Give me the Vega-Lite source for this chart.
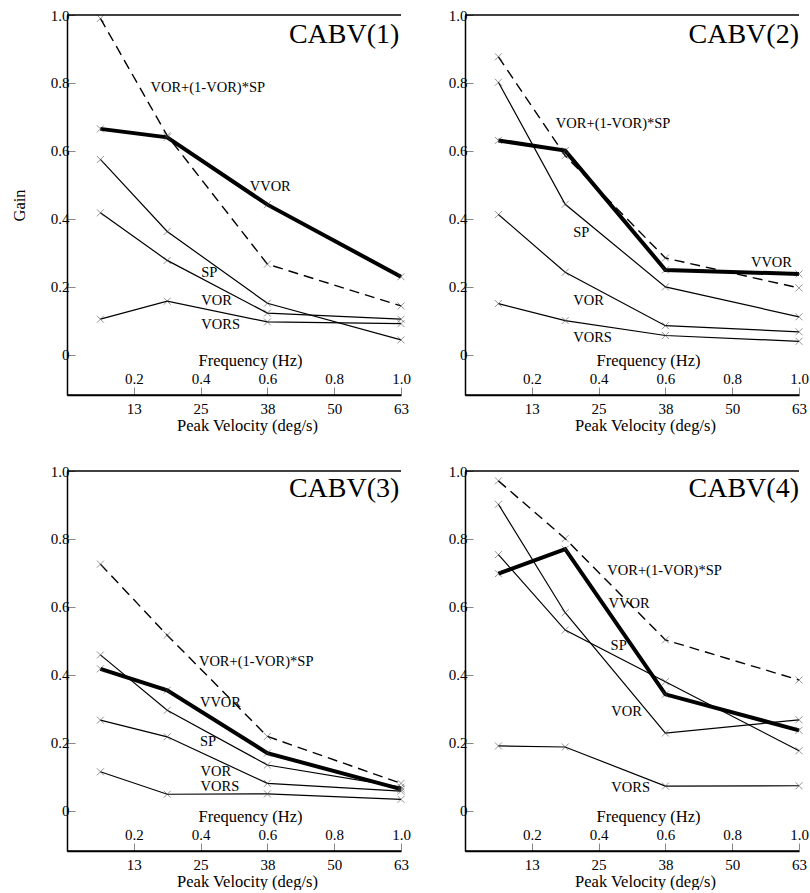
{
  "$schema": "https://vega.github.io/schema/vega-lite/v6.json",
  "padding": {"top": 8, "left": 11, "right": 0, "bottom": 0},
  "background": "white",
  "datasets": {
    "lines": [
      {"p":1,"s":"SUM","f":0.1,"g":0.99},{"p":1,"s":"SUM","f":0.3,"g":0.645},{"p":1,"s":"SUM","f":0.6,"g":0.267},{"p":1,"s":"SUM","f":1.0,"g":0.144},
      {"p":1,"s":"VVOR","f":0.1,"g":0.665},{"p":1,"s":"VVOR","f":0.3,"g":0.64},{"p":1,"s":"VVOR","f":0.6,"g":0.442},{"p":1,"s":"VVOR","f":1.0,"g":0.23},
      {"p":1,"s":"SP","f":0.1,"g":0.575},{"p":1,"s":"SP","f":0.3,"g":0.363},{"p":1,"s":"SP","f":0.6,"g":0.152},{"p":1,"s":"SP","f":1.0,"g":0.044},
      {"p":1,"s":"VOR","f":0.1,"g":0.418},{"p":1,"s":"VOR","f":0.3,"g":0.278},{"p":1,"s":"VOR","f":0.6,"g":0.123},{"p":1,"s":"VOR","f":1.0,"g":0.105},
      {"p":1,"s":"VORS","f":0.1,"g":0.105},{"p":1,"s":"VORS","f":0.3,"g":0.158},{"p":1,"s":"VORS","f":0.6,"g":0.097},{"p":1,"s":"VORS","f":1.0,"g":0.092},
      {"p":2,"s":"SUM","f":0.1,"g":0.877},{"p":2,"s":"SUM","f":0.3,"g":0.586},{"p":2,"s":"SUM","f":0.6,"g":0.285},{"p":2,"s":"SUM","f":1.0,"g":0.197},
      {"p":2,"s":"VVOR","f":0.1,"g":0.631},{"p":2,"s":"VVOR","f":0.3,"g":0.601},{"p":2,"s":"VVOR","f":0.6,"g":0.25},{"p":2,"s":"VVOR","f":1.0,"g":0.238},
      {"p":2,"s":"SP","f":0.1,"g":0.802},{"p":2,"s":"SP","f":0.3,"g":0.443},{"p":2,"s":"SP","f":0.6,"g":0.2},{"p":2,"s":"SP","f":1.0,"g":0.112},
      {"p":2,"s":"VOR","f":0.1,"g":0.413},{"p":2,"s":"VOR","f":0.3,"g":0.243},{"p":2,"s":"VOR","f":0.6,"g":0.086},{"p":2,"s":"VOR","f":1.0,"g":0.068},
      {"p":2,"s":"VORS","f":0.1,"g":0.151},{"p":2,"s":"VORS","f":0.3,"g":0.101},{"p":2,"s":"VORS","f":0.6,"g":0.057},{"p":2,"s":"VORS","f":1.0,"g":0.04},
      {"p":3,"s":"SUM","f":0.1,"g":0.726},{"p":3,"s":"SUM","f":0.3,"g":0.517},{"p":3,"s":"SUM","f":0.6,"g":0.219},{"p":3,"s":"SUM","f":1.0,"g":0.081},
      {"p":3,"s":"VVOR","f":0.1,"g":0.418},{"p":3,"s":"VVOR","f":0.3,"g":0.355},{"p":3,"s":"VVOR","f":0.6,"g":0.17},{"p":3,"s":"VVOR","f":1.0,"g":0.064},
      {"p":3,"s":"SP","f":0.1,"g":0.459},{"p":3,"s":"SP","f":0.3,"g":0.296},{"p":3,"s":"SP","f":0.6,"g":0.135},{"p":3,"s":"SP","f":1.0,"g":0.07},
      {"p":3,"s":"VOR","f":0.1,"g":0.267},{"p":3,"s":"VOR","f":0.3,"g":0.218},{"p":3,"s":"VOR","f":0.6,"g":0.081},{"p":3,"s":"VOR","f":1.0,"g":0.058},
      {"p":3,"s":"VORS","f":0.1,"g":0.115},{"p":3,"s":"VORS","f":0.3,"g":0.049},{"p":3,"s":"VORS","f":0.6,"g":0.05},{"p":3,"s":"VORS","f":1.0,"g":0.034},
      {"p":4,"s":"SUM","f":0.1,"g":0.971},{"p":4,"s":"SUM","f":0.3,"g":0.801},{"p":4,"s":"SUM","f":0.6,"g":0.503},{"p":4,"s":"SUM","f":1.0,"g":0.385},
      {"p":4,"s":"VVOR","f":0.1,"g":0.698},{"p":4,"s":"VVOR","f":0.3,"g":0.77},{"p":4,"s":"VVOR","f":0.6,"g":0.343},{"p":4,"s":"VVOR","f":1.0,"g":0.237},
      {"p":4,"s":"SP","f":0.1,"g":0.754},{"p":4,"s":"SP","f":0.3,"g":0.532},{"p":4,"s":"SP","f":0.6,"g":0.38},{"p":4,"s":"SP","f":1.0,"g":0.177},
      {"p":4,"s":"VOR","f":0.1,"g":0.902},{"p":4,"s":"VOR","f":0.3,"g":0.583},{"p":4,"s":"VOR","f":0.6,"g":0.229},{"p":4,"s":"VOR","f":1.0,"g":0.268},
      {"p":4,"s":"VORS","f":0.1,"g":0.191},{"p":4,"s":"VORS","f":0.3,"g":0.188},{"p":4,"s":"VORS","f":0.6,"g":0.073},{"p":4,"s":"VORS","f":1.0,"g":0.074}
    ],
    "labels": [
      {"p":1,"t":"VOR+(1-VOR)*SP","x":0.25,"y":0.784},{"p":1,"t":"VVOR","x":0.547,"y":0.495},{"p":1,"t":"SP","x":0.402,"y":0.24},{"p":1,"t":"VOR","x":0.402,"y":0.16},{"p":1,"t":"VORS","x":0.402,"y":0.088},
      {"p":2,"t":"VOR+(1-VOR)*SP","x":0.272,"y":0.678},{"p":2,"t":"SP","x":0.324,"y":0.36},{"p":2,"t":"VOR","x":0.324,"y":0.158},{"p":2,"t":"VORS","x":0.324,"y":0.049},{"p":2,"t":"VVOR","x":0.856,"y":0.269},
      {"p":3,"t":"VOR+(1-VOR)*SP","x":0.395,"y":0.439},{"p":3,"t":"VVOR","x":0.398,"y":0.316},{"p":3,"t":"SP","x":0.398,"y":0.203},{"p":3,"t":"VOR","x":0.4,"y":0.113},{"p":3,"t":"VORS","x":0.4,"y":0.069},
      {"p":4,"t":"VOR+(1-VOR)*SP","x":0.426,"y":0.705},{"p":4,"t":"VVOR","x":0.43,"y":0.609},{"p":4,"t":"SP","x":0.436,"y":0.484},{"p":4,"t":"VOR","x":0.438,"y":0.292},{"p":4,"t":"VORS","x":0.438,"y":0.068}
    ],
    "titles": [
      {"p":1,"t":"CABV(1)","x":0.995,"y":0.94},
      {"p":2,"t":"CABV(2)","x":1.0,"y":0.94},
      {"p":3,"t":"CABV(3)","x":0.995,"y":0.946},
      {"p":4,"t":"CABV(4)","x":1.0,"y":0.946}
    ],
    "frame": [{"g": -0.118}, {"g": 1}]
  },
  "columns": 2,
  "spacing": {"row": 30, "column": 37},
  "concat": [
    {
      "width": 334, "height": 380,
      "layer": [
        {"data": {"name": "lines"}, "transform": [{"filter": "datum.p == 1 && (datum.s == 'SP' || datum.s == 'VOR' || datum.s == 'VORS')"}],
         "mark": {"type": "line", "color": "black", "strokeWidth": 1.2},
         "encoding": {
           "x": {"field": "f", "type": "quantitative", "scale": {"domain": [0, 1], "nice": false, "zero": false},
                 "axis": {"orient": "bottom", "domain": true, "domainColor": "black", "domainWidth": 1.5, "values": [0.2, 0.4, 0.6, 0.8, 1], "labelExpr": "format(datum.value*63, '.0f')", "tickSize": -8, "labelPadding": 14, "labelFlush": false, "labelOverlap": false, "title": "Peak Velocity (deg/s)", "titlePadding": 1, "titleX": 180}},
           "y": {"field": "g", "type": "quantitative", "scale": {"domain": [-0.118, 1], "nice": false, "zero": false},
                 "axis": {"values": [0, 0.2, 0.4, 0.6, 0.8, 1], "labelExpr": "datum.value == 0 ? '0' : format(datum.value, '.1f')", "tickSize": -8, "labelPadding": 6, "labelFlush": false, "labelOverlap": false, "title": "Gain", "titlePadding": 23}},
           "detail": {"field": "s"},
           "order": {"field": "f"}
         }},
        {"data": {"name": "lines"}, "transform": [{"filter": "datum.p == 1 && datum.s == 'VVOR'"}],
         "mark": {"type": "line", "color": "black", "strokeWidth": 4},
         "encoding": {"x": {"field": "f", "type": "quantitative", "axis": null}, "y": {"field": "g", "type": "quantitative", "axis": null}, "order": {"field": "f"}}},
        {"data": {"name": "lines"}, "transform": [{"filter": "datum.p == 1 && datum.s == 'SUM'"}],
         "mark": {"type": "line", "color": "black", "strokeWidth": 1.4, "strokeDash": [10, 6]},
         "encoding": {"x": {"field": "f", "type": "quantitative", "axis": null}, "y": {"field": "g", "type": "quantitative", "axis": null}, "order": {"field": "f"}}},
        {"data": {"name": "lines"}, "transform": [{"filter": "datum.p == 1"}],
         "mark": {"type": "point", "shape": "M-1,-1L1,1M-1,1L1,-1", "size": 49, "filled": false, "stroke": "#444", "strokeWidth": 0.8},
         "encoding": {
           "x": {"field": "f", "type": "quantitative", "axis": {"orient": "top", "offset": -373, "values": [0.2, 0.4, 0.6, 0.8, 1], "format": ".1f", "domain": false, "ticks": false, "tickSize": 0, "labelPadding": 2, "labelFlush": false, "labelOverlap": false, "title": "Frequency (Hz)", "titlePadding": 3, "titleX": 183}},
           "y": {"field": "g", "type": "quantitative", "axis": null}
         }},
        {"data": {"name": "labels"}, "transform": [{"filter": "datum.p == 1"}],
         "mark": {"type": "text", "align": "left", "baseline": "middle", "fontSize": 14.5, "font": "Liberation Serif", "color": "black"},
         "encoding": {"x": {"field": "x", "type": "quantitative", "axis": null}, "y": {"field": "y", "type": "quantitative", "axis": null}, "text": {"field": "t"}}},
        {"data": {"name": "titles"}, "transform": [{"filter": "datum.p == 1"}],
         "mark": {"type": "text", "align": "right", "baseline": "middle", "fontSize": 28, "font": "Liberation Serif", "color": "black"},
         "encoding": {"x": {"field": "x", "type": "quantitative", "axis": null}, "y": {"field": "y", "type": "quantitative", "axis": null}, "text": {"field": "t"}}},
        {"data": {"name": "frame"},
         "mark": {"type": "rule", "strokeWidth": 1.5, "color": "black"},
         "encoding": {"y": {"field": "g", "type": "quantitative", "axis": null}}}
      ],
      "resolve": {"axis": {"x": "independent", "y": "independent"}}
    },
    {
      "width": 334, "height": 380,
      "layer": [
        {"data": {"name": "lines"}, "transform": [{"filter": "datum.p == 2 && (datum.s == 'SP' || datum.s == 'VOR' || datum.s == 'VORS')"}],
         "mark": {"type": "line", "color": "black", "strokeWidth": 1.2},
         "encoding": {
           "x": {"field": "f", "type": "quantitative", "scale": {"domain": [0, 1], "nice": false, "zero": false},
                 "axis": {"orient": "bottom", "domain": true, "domainColor": "black", "domainWidth": 1.5, "values": [0.2, 0.4, 0.6, 0.8, 1], "labelExpr": "format(datum.value*63, '.0f')", "tickSize": -8, "labelPadding": 14, "labelFlush": false, "labelOverlap": false, "title": "Peak Velocity (deg/s)", "titlePadding": 1, "titleX": 180}},
           "y": {"field": "g", "type": "quantitative", "scale": {"domain": [-0.118, 1], "nice": false, "zero": false},
                 "axis": {"values": [0, 0.2, 0.4, 0.6, 0.8, 1], "labelExpr": "datum.value == 0 ? '0' : format(datum.value, '.1f')", "tickSize": -8, "labelPadding": 6, "labelFlush": false, "labelOverlap": false, "title": null}},
           "detail": {"field": "s"},
           "order": {"field": "f"}
         }},
        {"data": {"name": "lines"}, "transform": [{"filter": "datum.p == 2 && datum.s == 'VVOR'"}],
         "mark": {"type": "line", "color": "black", "strokeWidth": 4},
         "encoding": {"x": {"field": "f", "type": "quantitative", "axis": null}, "y": {"field": "g", "type": "quantitative", "axis": null}, "order": {"field": "f"}}},
        {"data": {"name": "lines"}, "transform": [{"filter": "datum.p == 2 && datum.s == 'SUM'"}],
         "mark": {"type": "line", "color": "black", "strokeWidth": 1.4, "strokeDash": [10, 6]},
         "encoding": {"x": {"field": "f", "type": "quantitative", "axis": null}, "y": {"field": "g", "type": "quantitative", "axis": null}, "order": {"field": "f"}}},
        {"data": {"name": "lines"}, "transform": [{"filter": "datum.p == 2"}],
         "mark": {"type": "point", "shape": "M-1,-1L1,1M-1,1L1,-1", "size": 49, "filled": false, "stroke": "#444", "strokeWidth": 0.8},
         "encoding": {
           "x": {"field": "f", "type": "quantitative", "axis": {"orient": "top", "offset": -373, "values": [0.2, 0.4, 0.6, 0.8, 1], "format": ".1f", "domain": false, "ticks": false, "tickSize": 0, "labelPadding": 2, "labelFlush": false, "labelOverlap": false, "title": "Frequency (Hz)", "titlePadding": 3, "titleX": 183}},
           "y": {"field": "g", "type": "quantitative", "axis": null}
         }},
        {"data": {"name": "labels"}, "transform": [{"filter": "datum.p == 2"}],
         "mark": {"type": "text", "align": "left", "baseline": "middle", "fontSize": 14.5, "font": "Liberation Serif", "color": "black"},
         "encoding": {"x": {"field": "x", "type": "quantitative", "axis": null}, "y": {"field": "y", "type": "quantitative", "axis": null}, "text": {"field": "t"}}},
        {"data": {"name": "titles"}, "transform": [{"filter": "datum.p == 2"}],
         "mark": {"type": "text", "align": "right", "baseline": "middle", "fontSize": 28, "font": "Liberation Serif", "color": "black"},
         "encoding": {"x": {"field": "x", "type": "quantitative", "axis": null}, "y": {"field": "y", "type": "quantitative", "axis": null}, "text": {"field": "t"}}},
        {"data": {"name": "frame"},
         "mark": {"type": "rule", "strokeWidth": 1.5, "color": "black"},
         "encoding": {"y": {"field": "g", "type": "quantitative", "axis": null}}}
      ],
      "resolve": {"axis": {"x": "independent", "y": "independent"}}
    },
    {
      "width": 334, "height": 380,
      "layer": [
        {"data": {"name": "lines"}, "transform": [{"filter": "datum.p == 3 && (datum.s == 'SP' || datum.s == 'VOR' || datum.s == 'VORS')"}],
         "mark": {"type": "line", "color": "black", "strokeWidth": 1.2},
         "encoding": {
           "x": {"field": "f", "type": "quantitative", "scale": {"domain": [0, 1], "nice": false, "zero": false},
                 "axis": {"orient": "bottom", "domain": true, "domainColor": "black", "domainWidth": 1.5, "values": [0.2, 0.4, 0.6, 0.8, 1], "labelExpr": "format(datum.value*63, '.0f')", "tickSize": -8, "labelPadding": 14, "labelFlush": false, "labelOverlap": false, "title": "Peak Velocity (deg/s)", "titlePadding": 1, "titleX": 180}},
           "y": {"field": "g", "type": "quantitative", "scale": {"domain": [-0.118, 1], "nice": false, "zero": false},
                 "axis": {"values": [0, 0.2, 0.4, 0.6, 0.8, 1], "labelExpr": "datum.value == 0 ? '0' : format(datum.value, '.1f')", "tickSize": -8, "labelPadding": 6, "labelFlush": false, "labelOverlap": false, "title": null}},
           "detail": {"field": "s"},
           "order": {"field": "f"}
         }},
        {"data": {"name": "lines"}, "transform": [{"filter": "datum.p == 3 && datum.s == 'VVOR'"}],
         "mark": {"type": "line", "color": "black", "strokeWidth": 4},
         "encoding": {"x": {"field": "f", "type": "quantitative", "axis": null}, "y": {"field": "g", "type": "quantitative", "axis": null}, "order": {"field": "f"}}},
        {"data": {"name": "lines"}, "transform": [{"filter": "datum.p == 3 && datum.s == 'SUM'"}],
         "mark": {"type": "line", "color": "black", "strokeWidth": 1.4, "strokeDash": [10, 6]},
         "encoding": {"x": {"field": "f", "type": "quantitative", "axis": null}, "y": {"field": "g", "type": "quantitative", "axis": null}, "order": {"field": "f"}}},
        {"data": {"name": "lines"}, "transform": [{"filter": "datum.p == 3"}],
         "mark": {"type": "point", "shape": "M-1,-1L1,1M-1,1L1,-1", "size": 49, "filled": false, "stroke": "#444", "strokeWidth": 0.8},
         "encoding": {
           "x": {"field": "f", "type": "quantitative", "axis": {"orient": "top", "offset": -373, "values": [0.2, 0.4, 0.6, 0.8, 1], "format": ".1f", "domain": false, "ticks": false, "tickSize": 0, "labelPadding": 2, "labelFlush": false, "labelOverlap": false, "title": "Frequency (Hz)", "titlePadding": 3, "titleX": 183}},
           "y": {"field": "g", "type": "quantitative", "axis": null}
         }},
        {"data": {"name": "labels"}, "transform": [{"filter": "datum.p == 3"}],
         "mark": {"type": "text", "align": "left", "baseline": "middle", "fontSize": 14.5, "font": "Liberation Serif", "color": "black"},
         "encoding": {"x": {"field": "x", "type": "quantitative", "axis": null}, "y": {"field": "y", "type": "quantitative", "axis": null}, "text": {"field": "t"}}},
        {"data": {"name": "titles"}, "transform": [{"filter": "datum.p == 3"}],
         "mark": {"type": "text", "align": "right", "baseline": "middle", "fontSize": 28, "font": "Liberation Serif", "color": "black"},
         "encoding": {"x": {"field": "x", "type": "quantitative", "axis": null}, "y": {"field": "y", "type": "quantitative", "axis": null}, "text": {"field": "t"}}},
        {"data": {"name": "frame"},
         "mark": {"type": "rule", "strokeWidth": 1.5, "color": "black"},
         "encoding": {"y": {"field": "g", "type": "quantitative", "axis": null}}}
      ],
      "resolve": {"axis": {"x": "independent", "y": "independent"}}
    },
    {
      "width": 334, "height": 380,
      "layer": [
        {"data": {"name": "lines"}, "transform": [{"filter": "datum.p == 4 && (datum.s == 'SP' || datum.s == 'VOR' || datum.s == 'VORS')"}],
         "mark": {"type": "line", "color": "black", "strokeWidth": 1.2},
         "encoding": {
           "x": {"field": "f", "type": "quantitative", "scale": {"domain": [0, 1], "nice": false, "zero": false},
                 "axis": {"orient": "bottom", "domain": true, "domainColor": "black", "domainWidth": 1.5, "values": [0.2, 0.4, 0.6, 0.8, 1], "labelExpr": "format(datum.value*63, '.0f')", "tickSize": -8, "labelPadding": 14, "labelFlush": false, "labelOverlap": false, "title": "Peak Velocity (deg/s)", "titlePadding": 1, "titleX": 180}},
           "y": {"field": "g", "type": "quantitative", "scale": {"domain": [-0.118, 1], "nice": false, "zero": false},
                 "axis": {"values": [0, 0.2, 0.4, 0.6, 0.8, 1], "labelExpr": "datum.value == 0 ? '0' : format(datum.value, '.1f')", "tickSize": -8, "labelPadding": 6, "labelFlush": false, "labelOverlap": false, "title": null}},
           "detail": {"field": "s"},
           "order": {"field": "f"}
         }},
        {"data": {"name": "lines"}, "transform": [{"filter": "datum.p == 4 && datum.s == 'VVOR'"}],
         "mark": {"type": "line", "color": "black", "strokeWidth": 4},
         "encoding": {"x": {"field": "f", "type": "quantitative", "axis": null}, "y": {"field": "g", "type": "quantitative", "axis": null}, "order": {"field": "f"}}},
        {"data": {"name": "lines"}, "transform": [{"filter": "datum.p == 4 && datum.s == 'SUM'"}],
         "mark": {"type": "line", "color": "black", "strokeWidth": 1.4, "strokeDash": [10, 6]},
         "encoding": {"x": {"field": "f", "type": "quantitative", "axis": null}, "y": {"field": "g", "type": "quantitative", "axis": null}, "order": {"field": "f"}}},
        {"data": {"name": "lines"}, "transform": [{"filter": "datum.p == 4"}],
         "mark": {"type": "point", "shape": "M-1,-1L1,1M-1,1L1,-1", "size": 49, "filled": false, "stroke": "#444", "strokeWidth": 0.8},
         "encoding": {
           "x": {"field": "f", "type": "quantitative", "axis": {"orient": "top", "offset": -373, "values": [0.2, 0.4, 0.6, 0.8, 1], "format": ".1f", "domain": false, "ticks": false, "tickSize": 0, "labelPadding": 2, "labelFlush": false, "labelOverlap": false, "title": "Frequency (Hz)", "titlePadding": 3, "titleX": 183}},
           "y": {"field": "g", "type": "quantitative", "axis": null}
         }},
        {"data": {"name": "labels"}, "transform": [{"filter": "datum.p == 4"}],
         "mark": {"type": "text", "align": "left", "baseline": "middle", "fontSize": 14.5, "font": "Liberation Serif", "color": "black"},
         "encoding": {"x": {"field": "x", "type": "quantitative", "axis": null}, "y": {"field": "y", "type": "quantitative", "axis": null}, "text": {"field": "t"}}},
        {"data": {"name": "titles"}, "transform": [{"filter": "datum.p == 4"}],
         "mark": {"type": "text", "align": "right", "baseline": "middle", "fontSize": 28, "font": "Liberation Serif", "color": "black"},
         "encoding": {"x": {"field": "x", "type": "quantitative", "axis": null}, "y": {"field": "y", "type": "quantitative", "axis": null}, "text": {"field": "t"}}},
        {"data": {"name": "frame"},
         "mark": {"type": "rule", "strokeWidth": 1.5, "color": "black"},
         "encoding": {"y": {"field": "g", "type": "quantitative", "axis": null}}}
      ],
      "resolve": {"axis": {"x": "independent", "y": "independent"}}
    }
  ],
  "config": {
    "font": "Liberation Serif",
    "view": {"stroke": null},
    "axis": {
      "labelFont": "Liberation Serif", "labelFontSize": 15, "labelColor": "black",
      "titleFont": "Liberation Serif", "titleFontSize": 16.5, "titleFontWeight": "normal", "titleColor": "black",
      "domainColor": "black", "domainWidth": 1.5, "tickColor": "#888", "tickWidth": 1, "grid": false
    }
  }
}
